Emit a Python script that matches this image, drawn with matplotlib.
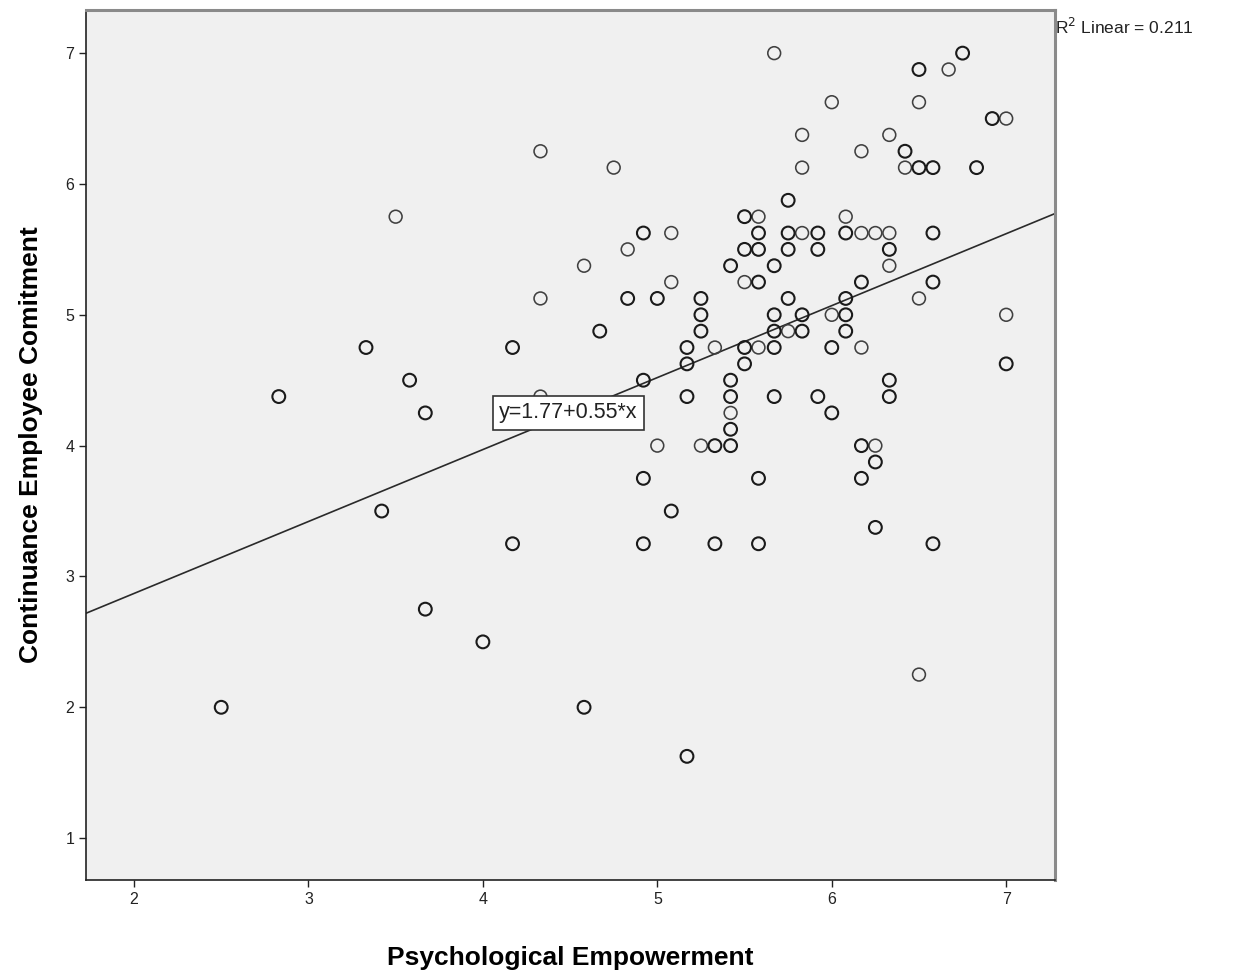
import numpy as np
import matplotlib.pyplot as plt

plt.rcParams['font.family'] = ['Liberation Sans', 'DejaVu Sans']

# psychological empowerment (x), continuance commitment (y), number of cases at the point
x = [5.67, 6.75, 6.5, 6.67, 6.0, 6.5, 6.92, 7.0, 5.83, 6.33,
     4.33, 6.17, 6.42, 4.75, 5.83, 6.42, 6.5, 6.58, 6.83, 5.75,
     3.5, 5.5, 5.58, 6.08,
     4.92, 5.08, 5.58, 5.75, 5.83, 5.92, 6.08, 6.17, 6.25, 6.33, 6.58,
     4.83, 5.5, 5.58, 5.75, 5.92, 6.33,
     4.58, 5.42, 5.67, 6.33,
     5.08, 5.5, 5.58, 6.17, 6.58,
     4.33, 4.83, 5.0, 5.25, 5.75, 6.08, 6.5,
     5.25, 5.67, 5.83, 6.0, 6.08, 7.0,
     4.67, 5.25, 5.67, 5.75, 5.83, 6.08,
     3.33, 4.17, 5.17, 5.33, 5.5, 5.58, 5.67, 6.0, 6.17,
     5.17, 5.5, 7.0,
     3.58, 4.92, 5.42, 6.33,
     2.83, 4.33, 5.17, 5.42, 5.67, 5.92, 6.33,
     3.67, 5.42, 6.0,
     5.42,
     5.0, 5.25, 5.33, 5.42, 6.17, 6.25,
     6.25,
     4.92, 5.58, 6.17,
     3.42, 5.08,
     6.25,
     4.17, 4.92, 5.33, 5.58, 6.58,
     3.67, 4.0, 6.5, 2.5, 4.58, 5.17]
y = [7.0, 7.0, 6.875, 6.875, 6.625, 6.625, 6.5, 6.5, 6.375, 6.375,
     6.25, 6.25, 6.25, 6.125, 6.125, 6.125, 6.125, 6.125, 6.125, 5.875,
     5.75, 5.75, 5.75, 5.75,
     5.625, 5.625, 5.625, 5.625, 5.625, 5.625, 5.625, 5.625, 5.625, 5.625, 5.625,
     5.5, 5.5, 5.5, 5.5, 5.5, 5.5,
     5.375, 5.375, 5.375, 5.375,
     5.25, 5.25, 5.25, 5.25, 5.25,
     5.125, 5.125, 5.125, 5.125, 5.125, 5.125, 5.125,
     5.0, 5.0, 5.0, 5.0, 5.0, 5.0,
     4.875, 4.875, 4.875, 4.875, 4.875, 4.875,
     4.75, 4.75, 4.75, 4.75, 4.75, 4.75, 4.75, 4.75, 4.75,
     4.625, 4.625, 4.625,
     4.5, 4.5, 4.5, 4.5,
     4.375, 4.375, 4.375, 4.375, 4.375, 4.375, 4.375,
     4.25, 4.25, 4.25,
     4.125,
     4.0, 4.0, 4.0, 4.0, 4.0, 4.0,
     3.875,
     3.75, 3.75, 3.75,
     3.5, 3.5,
     3.375,
     3.25, 3.25, 3.25, 3.25, 3.25,
     2.75, 2.5, 2.25, 2.0, 2.0, 1.625]
n = [1, 2, 2, 1, 1, 1, 2, 1, 1, 1,
     1, 1, 2, 1, 1, 1, 2, 2, 2, 2,
     1, 2, 1, 1,
     2, 1, 2, 2, 1, 2, 2, 1, 1, 1, 2,
     1, 2, 2, 2, 2, 2,
     1, 2, 2, 1,
     1, 1, 2, 2, 2,
     1, 2, 2, 2, 2, 2, 1,
     2, 2, 2, 1, 2, 1,
     2, 2, 2, 1, 2, 2,
     2, 2, 2, 1, 2, 1, 2, 2, 1,
     2, 2, 2,
     2, 2, 2, 2,
     2, 1, 2, 2, 2, 2, 2,
     2, 1, 2,
     2,
     1, 1, 2, 2, 2, 1,
     2,
     2, 2, 2,
     2, 2,
     2,
     2, 2, 2, 2, 2,
     2, 2, 1, 2, 2, 2]

intercept, slope = 1.77, 0.55
r2 = 0.211

x = np.array(x)
y = np.array(y)
n = np.array(n)

fig = plt.figure(figsize=(12.36, 9.77), dpi=100)
ax = fig.add_axes([0.0696, 0.0993, 0.7840, 0.8905])
ax.set_facecolor('#f0f0f0')

xmin, xmax = 1.725, 7.28
ax.set_xlim(xmin, xmax)
ax.set_ylim(0.68, 7.33)

# fit line
xl = np.array([xmin, xmax])
ax.plot(xl, intercept + slope * xl, color='#2a2a2a', lw=1.2, zorder=2)

single = n == 1
ax.scatter(x[single], y[single], s=85, facecolors='none', edgecolors='#404040',
           linewidths=1.15, zorder=3)
ax.scatter(x[~single], y[~single], s=85, facecolors='none', edgecolors='#1a1a1a',
           linewidths=1.5, zorder=3)

ax.text(4.49, 4.25, 'y=1.77+0.55*x', fontsize=15.5, ha='center', va='center',
        color='#222222', zorder=5,
        bbox=dict(boxstyle='square,pad=0.3', fc='white', ec='#333333', lw=1.2))

ax.text(1.0, 0.98, 'R$^2$ Linear = 0.211', transform=ax.transAxes,
        fontsize=12.5, ha='left', va='center', color='#222222')

ax.set_xticks([2, 3, 4, 5, 6, 7])
ax.set_yticks([1, 2, 3, 4, 5, 6, 7])
ax.tick_params(direction='out', length=5, width=1, labelsize=11.5, colors='#222222')

for side in ['left', 'bottom']:
    ax.spines[side].set_color('#222222')
    ax.spines[side].set_linewidth(1.2)
for side in ['top', 'right']:
    ax.spines[side].set_color('#8a8a8a')
    ax.spines[side].set_linewidth(2.2)

ax.set_xlabel('Psychological Empowerment', fontsize=19, fontweight='bold', labelpad=28)
ax.set_ylabel('Continuance Employee Comitment', fontsize=19, fontweight='bold', labelpad=16)

fig.savefig('out.png', dpi=100)
